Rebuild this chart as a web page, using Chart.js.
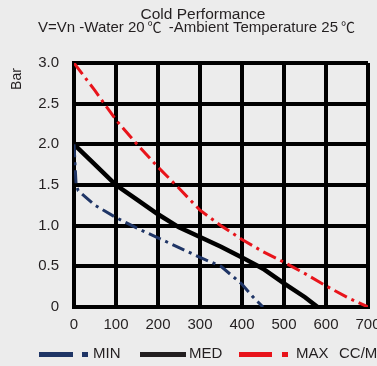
<!DOCTYPE html>
<html><head><meta charset="utf-8">
<script src="https://cdn.jsdelivr.net/npm/chart.js@4.4.1/dist/chart.umd.min.js"></script>
<style>html,body{margin:0;padding:0;background:#ececec;overflow:hidden}canvas{display:block}</style>
</head><body><canvas id="c" width="377" height="366"></canvas>
<script>
const titleText = 'Cold Performance';
const subtitleText = 'V=Vn -Water 20\u2103 -Ambient Temperature 25\u2103';
const yAxisTitle = 'Bar';
const xUnit = 'CC/M';
const seriesNames = ['MIN', 'MED', 'MAX'];
const xTickLabels = ['0', '100', '200', '300', '400', '500', '600', '700'];
const yTickLabels = ['0', '0.5', '1.0', '1.5', '2.0', '2.5', '3.0'];
const minFlow = [0, 5, 10, 50, 100, 150, 200, 250, 300, 350, 400, 425, 450];
const minBar  = [2.0, 1.5, 1.43, 1.25, 1.1, 0.97, 0.85, 0.73, 0.61, 0.5, 0.28, 0.13, 0];
const medFlow = [0, 50, 100, 150, 200, 250, 300, 350, 400, 450, 500, 550, 580];
const medBar  = [2.0, 1.75, 1.5, 1.32, 1.14, 0.98, 0.86, 0.74, 0.61, 0.47, 0.29, 0.12, 0];
const maxFlow = [0, 50, 100, 150, 200, 250, 300, 350, 400, 450, 500, 550, 600, 650, 700];
const maxBar  = [3.0, 2.66, 2.3, 2.0, 1.72, 1.46, 1.19, 1.0, 0.83, 0.68, 0.55, 0.41, 0.26, 0.12, 0];

const FONT = '"Liberation Sans", Arial, "Noto Sans CJK SC", sans-serif';
const CJK = '"Noto Sans CJK SC", "Liberation Sans", sans-serif';
const TEXT = '#231f20';
const NAVY = '#1f3566';
const BLACK = '#000000';
const RED = '#e8141b';

function pts(xs, ys) { return xs.map((x, i) => ({x: x, y: ys[i]})); }

Chart.defaults.font.family = FONT;
Chart.defaults.color = TEXT;

function drawMixed(ctx, text, cx, y, size) {
  // the degree-Celsius sign is set in a CJK font with some side space, as in the original
  const parts = text.split(/(\u2103)/).filter(p => p.length);
  const isC = p => p === '\u2103';
  const fontOf = p => (isC(p) ? (size - 1) + 'px ' + CJK : size + 'px ' + FONT);
  const pad = 3;
  const widthOf = p => { ctx.font = fontOf(p); return ctx.measureText(p).width + (isC(p) ? 2 * pad : 0); };
  let total = 0;
  parts.forEach(p => { total += widthOf(p); });
  let x = cx - total / 2;
  ctx.textAlign = 'left';
  parts.forEach(p => {
    const w = widthOf(p);
    ctx.font = fontOf(p);
    ctx.fillText(p, x + (isC(p) ? pad : 0), y);
    x += w;
  });
}

const decor = {
  id: 'decor',
  afterDraw(chart) {
    const ctx = chart.ctx;
    ctx.save();
    ctx.fillStyle = TEXT;
    ctx.textBaseline = 'alphabetic';
    ctx.textAlign = 'center';
    ctx.font = '15.5px ' + FONT;
    ctx.fillText(titleText, 203, 19);
    drawMixed(ctx, subtitleText, 198, 32, 15);
    ctx.save();
    ctx.translate(21, 79);
    ctx.rotate(-Math.PI / 2);
    ctx.textAlign = 'center';
    ctx.font = '14px ' + FONT;
    ctx.fillText(yAxisTitle, 0, 0);
    ctx.restore();
    // legend
    const items = [
      {c: NAVY, a: 39, b: 73, d: [82, 88], t: 93},
      {c: '#231f20', a: 140, b: 186, d: null, t: 189},
      {c: RED, a: 239, b: 272, d: [282, 288], t: 296}
    ];
    ctx.textAlign = 'left';
    ctx.font = '15px ' + FONT;
    items.forEach((it, i) => {
      ctx.fillStyle = it.c;
      ctx.fillRect(it.a, 352, it.b - it.a, 5);
      if (it.d) ctx.fillRect(it.d[0], 352, it.d[1] - it.d[0], 5);
      ctx.fillStyle = TEXT;
      ctx.fillText(seriesNames[i], it.t, 358);
    });
    ctx.fillText(xUnit, 339, 358);
    ctx.restore();
  }
};

new Chart(document.getElementById('c'), {
  type: 'line',
  data: {
    datasets: [
      {label: seriesNames[0], data: pts(minFlow, minBar), borderColor: NAVY, borderWidth: 3, borderDash: [13, 5, 3, 5], pointRadius: 0, tension: 0, fill: false},
      {label: seriesNames[1], data: pts(medFlow, medBar), borderColor: BLACK, borderWidth: 4.5, pointRadius: 0, tension: 0, fill: false},
      {label: seriesNames[2], data: pts(maxFlow, maxBar), borderColor: RED, borderWidth: 3, borderDash: [14, 5, 3, 5], pointRadius: 0, tension: 0, fill: false}
    ]
  },
  options: {
    responsive: false,
    animation: false,
    devicePixelRatio: 1,
    layout: {padding: {top: 63, right: 9, bottom: 0, left: 0}},
    plugins: {legend: {display: false}, title: {display: false}, tooltip: {enabled: false}},
    scales: {
      x: {
        type: 'linear', min: 0, max: 700,
        ticks: {stepSize: 100, padding: 9, color: TEXT, font: {size: 15}, maxRotation: 0,
          callback: (v) => xTickLabels[Math.round(v / 100)]},
        grid: {color: BLACK, lineWidth: 4, drawTicks: false},
        border: {color: BLACK, width: 4},
        afterFit(s) { s.height = 59; s.paddingLeft = 0; s.paddingRight = 0; }
      },
      y: {
        type: 'linear', min: 0, max: 3,
        ticks: {stepSize: 0.5, padding: 15, color: TEXT, font: {size: 15},
          callback: (v) => yTickLabels[Math.round(v * 2)]},
        grid: {color: BLACK, lineWidth: 4, drawTicks: false},
        border: {color: BLACK, width: 4},
        afterFit(s) { s.width = 74; s.paddingTop = 0; s.paddingBottom = 0; }
      }
    }
  },
  plugins: [decor]
});
</script>
</body></html>
